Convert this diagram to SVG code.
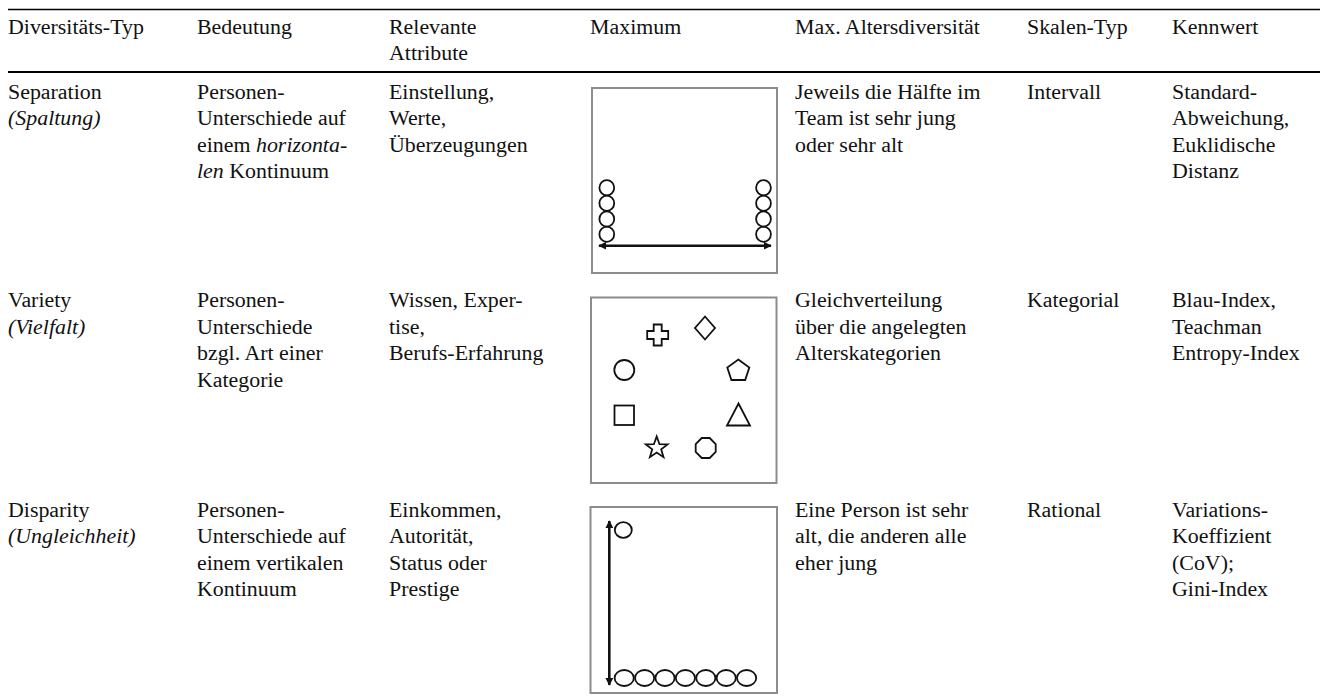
<svg xmlns="http://www.w3.org/2000/svg" width="1320" height="697" viewBox="0 0 1320 697">
<style>
text{font-family:"Liberation Serif","Times New Roman",serif;font-size:21.9px;fill:#111}
.i{font-style:italic}
.rule{stroke:#000;fill:none}
.box{fill:#fff;stroke:#8c8c8c;stroke-width:2}
.sh{fill:none;stroke:#111;stroke-width:1.8}
.ax{stroke:#111;stroke-width:2.6;fill:none}
</style>
<defs>
<marker id="ah" viewBox="0 0 10 10" refX="9" refY="5" markerWidth="3" markerHeight="3" orient="auto-start-reverse">
<path d="M0,0 L10,5 L0,10 z" fill="#111"/>
</marker>
</defs>
<rect width="1320" height="697" fill="#fff"/>
<line class="rule" x1="8" y1="9.5" x2="1320" y2="9.5" stroke-width="1.6"/>
<line class="rule" x1="8" y1="72" x2="1320" y2="72" stroke-width="1.8"/>

<g id="header">
<text x="8" y="33.5">Diversitäts-Typ</text>
<text x="197" y="33.5">Bedeutung</text>
<text x="389" y="33.5">Relevante</text>
<text x="389" y="60">Attribute</text>
<text x="590" y="33.5">Maximum</text>
<text x="795" y="33.5">Max. Altersdiversität</text>
<text x="1027" y="33.5">Skalen-Typ</text>
<text x="1172" y="33.5">Kennwert</text>
</g>

<g id="row-separation">
<text x="8" y="98.5">Separation</text>
<text x="8" y="125.1" class="i">(Spaltung)</text>
<text x="197" y="98.5">Personen-</text>
<text x="197" y="125.1">Unterschiede auf</text>
<text x="197" y="151.7">einem <tspan class="i">horizonta-</tspan></text>
<text x="197" y="178.3"><tspan class="i">len</tspan> Kontinuum</text>
<text x="389" y="98.5">Einstellung,</text>
<text x="389" y="125.1">Werte,</text>
<text x="389" y="151.7">Überzeugungen</text>
<g id="max-separation">
<rect class="box" x="592" y="88" width="185" height="185"/>
<ellipse class="sh" cx="606.8" cy="187.7" rx="7.4" ry="7.6"/>
<ellipse class="sh" cx="606.8" cy="203.3" rx="7.4" ry="7.6"/>
<ellipse class="sh" cx="606.8" cy="219" rx="7.4" ry="7.6"/>
<ellipse class="sh" cx="606.8" cy="234.3" rx="7.4" ry="7.6"/>
<ellipse class="sh" cx="763.5" cy="187.7" rx="7.4" ry="7.6"/>
<ellipse class="sh" cx="763.5" cy="203.3" rx="7.4" ry="7.6"/>
<ellipse class="sh" cx="763.5" cy="219" rx="7.4" ry="7.6"/>
<ellipse class="sh" cx="763.5" cy="234.3" rx="7.4" ry="7.6"/>
<line class="ax" x1="599" y1="245.7" x2="771" y2="245.7" marker-start="url(#ah)" marker-end="url(#ah)"/>
</g>
<text x="795" y="98.5">Jeweils die Hälfte im</text>
<text x="795" y="125.1">Team ist sehr jung</text>
<text x="795" y="151.7">oder sehr alt</text>
<text x="1027" y="98.5">Intervall</text>
<text x="1172" y="98.5">Standard-</text>
<text x="1172" y="125.1">Abweichung,</text>
<text x="1172" y="151.7">Euklidische</text>
<text x="1172" y="178.3">Distanz</text>
</g>

<g id="row-variety">
<text x="8" y="307">Variety</text>
<text x="8" y="333.6" class="i">(Vielfalt)</text>
<text x="197" y="307">Personen-</text>
<text x="197" y="333.6">Unterschiede</text>
<text x="197" y="360.2">bzgl. Art einer</text>
<text x="197" y="386.8">Kategorie</text>
<text x="389" y="307">Wissen, Exper-</text>
<text x="389" y="333.6">tise,</text>
<text x="389" y="360.2">Berufs-Erfahrung</text>
<g id="max-variety">
<rect class="box" x="591" y="297.5" width="185.5" height="185.5"/>
<path class="sh" d="M653.7,324.5 h8 v6.5 h6.5 v8 h-6.5 v6.5 h-8 v-6.5 h-6.5 v-8 h6.5 z"/>
<polygon class="sh" points="705,316.5 715,328 705,339.5 695,328"/>
<circle class="sh" cx="624.3" cy="370" r="10"/>
<polygon class="sh" points="738.3,359.5 749.3,367.5 745.2,380 731.4,380 727.3,367.5"/>
<rect class="sh" x="614.5" y="405.5" width="19.5" height="19.5"/>
<polygon class="sh" points="738.5,403.5 750,425.5 727,425.5"/>
<polygon class="sh" points="656.7,436.5 659.5,444.2 667.6,444.4 661.2,449.4 663.5,457.2 656.7,452.6 649.9,457.2 652.2,449.4 645.8,444.4 653.9,444.2"/>
<polygon class="sh" points="701.7,438 709.7,438 715.7,444 715.7,452 709.7,458 701.7,458 695.7,452 695.7,444"/>
</g>
<text x="795" y="307">Gleichverteilung</text>
<text x="795" y="333.6">über die angelegten</text>
<text x="795" y="360.2">Alterskategorien</text>
<text x="1027" y="307">Kategorial</text>
<text x="1172" y="307">Blau-Index,</text>
<text x="1172" y="333.6">Teachman</text>
<text x="1172" y="360.2">Entropy-Index</text>
</g>

<g id="row-disparity">
<text x="8" y="516.5">Disparity</text>
<text x="8" y="543.1" class="i">(Ungleichheit)</text>
<text x="197" y="516.5">Personen-</text>
<text x="197" y="543.1">Unterschiede auf</text>
<text x="197" y="569.7">einem vertikalen</text>
<text x="197" y="596.3">Kontinuum</text>
<text x="389" y="516.5">Einkommen,</text>
<text x="389" y="543.1">Autorität,</text>
<text x="389" y="569.7">Status oder</text>
<text x="389" y="596.3">Prestige</text>
<g id="max-disparity">
<rect class="box" x="590.5" y="507" width="186.5" height="186"/>
<line class="ax" x1="609.3" y1="521" x2="609.3" y2="685" marker-start="url(#ah)" marker-end="url(#ah)"/>
<ellipse class="sh" cx="623.3" cy="530" rx="8.5" ry="7.8"/>
<ellipse class="sh" cx="624.2" cy="678" rx="9.6" ry="8"/>
<ellipse class="sh" cx="644.6" cy="678" rx="9.6" ry="8"/>
<ellipse class="sh" cx="665" cy="678" rx="9.6" ry="8"/>
<ellipse class="sh" cx="685.4" cy="678" rx="9.6" ry="8"/>
<ellipse class="sh" cx="705.8" cy="678" rx="9.6" ry="8"/>
<ellipse class="sh" cx="726.2" cy="678" rx="9.6" ry="8"/>
<ellipse class="sh" cx="746.6" cy="678" rx="9.6" ry="8"/>
</g>
<text x="795" y="516.5">Eine Person ist sehr</text>
<text x="795" y="543.1">alt, die anderen alle</text>
<text x="795" y="569.7">eher jung</text>
<text x="1027" y="516.5">Rational</text>
<text x="1172" y="516.5">Variations-</text>
<text x="1172" y="543.1">Koeffizient</text>
<text x="1172" y="569.7">(CoV);</text>
<text x="1172" y="596.3">Gini-Index</text>
</g>
</svg>
